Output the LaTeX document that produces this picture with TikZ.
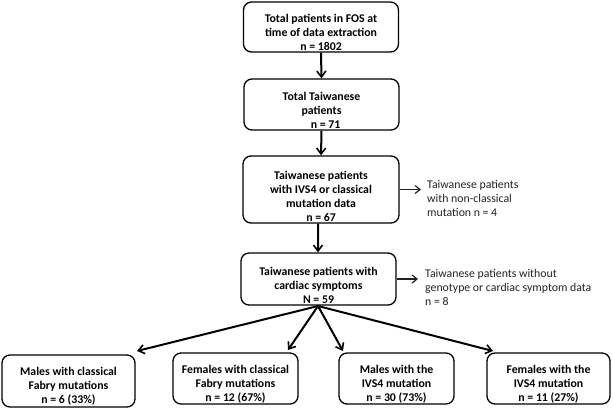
\documentclass[tikz,border=0pt]{standalone}
\usepackage{fontspec}
\setmainfont{Carlito}
\usetikzlibrary{arrows.meta}
\definecolor{sidegray}{HTML}{222222}
\tikzset{
  box/.style={draw=black, line width=1.3bp, rounded corners=8bp, inner sep=0pt},
  txt/.style={align=center, font=\fontsize{11.8bp}{14bp}\selectfont\bfseries, inner sep=0pt},
  side/.style={align=left, anchor=north west, text=sidegray, font=\fontsize{11.8bp}{14bp}\selectfont, inner sep=0pt},
  arr/.style={line width=2bp, -{Straight Barb[length=6bp,width=9bp,line width=1.6bp]}},
  sarr/.style={line width=1.2bp, sidegray, -{Straight Barb[length=5bp,width=8bp]}},
}
\begin{document}
\begin{tikzpicture}[x=1bp,y=-1bp]
\useasboundingbox (0,0) rectangle (613,408);
% boxes
\node[box, minimum width=155bp, minimum height=50bp] (b1) at (321,27) {};
\node[box, minimum width=155bp, minimum height=51bp] (b2) at (321.5,104.5) {};
\node[box, minimum width=156bp, minimum height=67bp] (b3) at (321,189.5) {};
\node[box, minimum width=155bp, minimum height=52bp] (b4) at (318.5,279) {};
\node[box, minimum width=133bp, minimum height=52bp] (m1) at (68.5,381) {};
\node[box, minimum width=125bp, minimum height=51bp] (f1) at (235.5,378.5) {};
\node[box, minimum width=115bp, minimum height=51bp] (m2) at (396.5,378.5) {};
\node[box, minimum width=123bp, minimum height=51bp] (f2) at (548.5,378.5) {};
% texts
\node[txt] (t1) at (321,32) {Total patients in FOS at\\time of data extraction\\n = 1802};
\node[txt] (t2) at (321.5,110.5) {Total Taiwanese\\patients\\\hspace*{8bp}n = 71};
\node[txt] (t3) at (321,196) {Taiwanese patients\\with IVS4 or classical\\mutation data\\n = 67};
\node[txt] (t4) at (318.5,285) {Taiwanese patients with\\cardiac symptoms\\N = 59};
\node[txt] (tm1) at (68.5,386) {Males with classical\\Fabry mutations\\n = 6 (33\%)};
\node[txt] (tf1) at (235.5,384.5) {Females with classical\\Fabry mutations\\n = 12 (67\%)};
\node[txt] (tm2) at (396.5,384.5) {Males with the\\IVS4 mutation\\n = 30 (73\%)};
\node[txt] (tf2) at (548.5,384.5) {Females with the\\IVS4 mutation\\n = 11 (27\%)};
% side texts
\node[side] (s1) at (427,180) {Taiwanese patients\\with non-classical\\mutation n = 4};
\node[side] (s2) at (425,269) {Taiwanese patients without\\genotype or cardiac symptom data\\n = 8};
% vertical arrows
\draw[arr] (b1.south) -- (b2.north);
\draw[arr] (b2.south) -- (b3.north);
\draw[arr] ([xshift=-3bp]b3.south) -- ([xshift=-0.5bp]b4.north);
% side arrows
\draw[sarr] (b3.east) -- ([xshift=-6bp]s1.west |- b3.east);
\draw[sarr] (b4.east) -- ([xshift=-7bp]s2.west |- b4.east);
% fan arrows
\coordinate (o) at (318,306);
\coordinate (em1) at (137,351);
\coordinate (ef1) at (288,350);
\coordinate (em2) at (343,351);
\coordinate (ef2) at (493,351);
\draw[arr] (o) -- (em1);
\draw[arr] (o) -- (ef1);
\draw[arr] (o) -- (em2);
\draw[arr] (o) -- (ef2);
\end{tikzpicture}
\end{document}
